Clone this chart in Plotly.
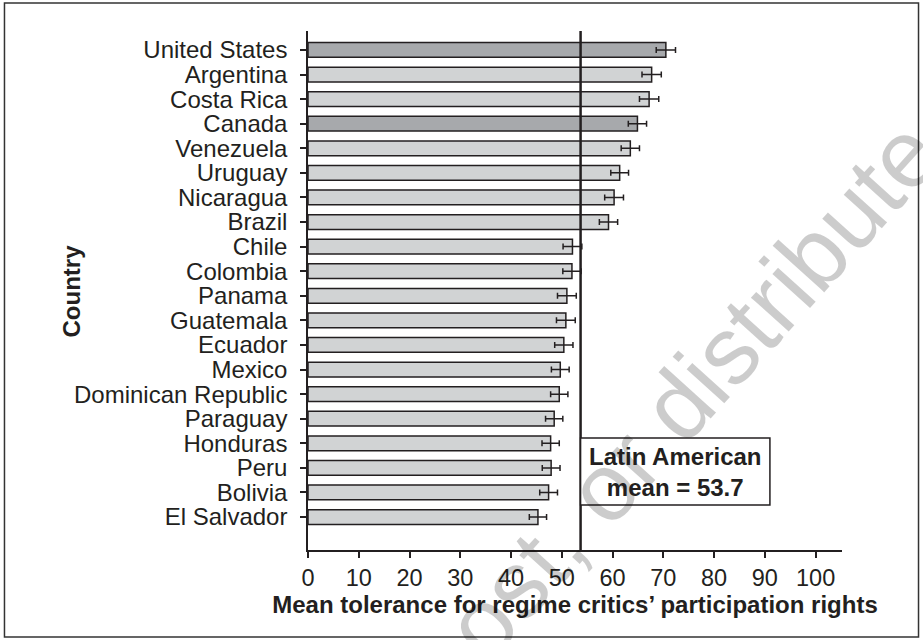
import plotly.graph_objects as go

# Mean tolerance scores by country (0-100 scale) with error margins
countries = [
    "United States", "Argentina", "Costa Rica", "Canada", "Venezuela",
    "Uruguay", "Nicaragua", "Brazil", "Chile", "Colombia", "Panama",
    "Guatemala", "Ecuador", "Mexico", "Dominican Republic", "Paraguay",
    "Honduras", "Peru", "Bolivia", "El Salvador",
]
means = [70.5, 67.7, 67.2, 64.9, 63.5, 61.4, 60.3, 59.2, 52.1, 52.0,
         51.0, 50.8, 50.4, 49.7, 49.5, 48.5, 47.8, 47.9, 47.4, 45.3]
errors = [1.9, 1.9, 1.9, 1.8, 1.8, 1.75, 1.85, 1.8, 1.85, 1.8,
          1.85, 1.85, 1.8, 1.75, 1.7, 1.7, 1.7, 1.75, 1.75, 1.7]
north_america = ["United States", "Canada"]
latin_mean = 53.7
x_ticks = [0, 10, 20, 30, 40, 50, 60, 70, 80, 90, 100]

INK = "#231f20"
FONT = "Liberation Sans, Arial, Helvetica, sans-serif"
DARK_FILL = "#a7a9ac"
LIGHT_FILL = "#d1d3d4"
TEXT_SIZE = 24

colors = [DARK_FILL if c in north_america else LIGHT_FILL for c in countries]

fig = go.Figure()
fig.add_trace(go.Bar(
    x=means,
    y=countries,
    orientation="h",
    width=0.6,
    marker=dict(color=colors, line=dict(color=INK, width=1.5)),
    error_x=dict(type="data", array=errors, color=INK, thickness=1.5, width=3),
    showlegend=False,
    hoverinfo="x+y",
))

# Latin American mean reference line
fig.add_shape(type="line", xref="x", yref="paper",
              x0=latin_mean, x1=latin_mean, y0=0, y1=1,
              line=dict(color=INK, width=2.5), layer="above")

# Callout box for the mean
box_x1 = 91.0
box_y0, box_y1 = 0.0867, 0.2158
fig.add_shape(type="rect", xref="x", yref="paper",
              x0=latin_mean, x1=box_x1, y0=box_y0, y1=box_y1,
              line=dict(color=INK, width=1.5), fillcolor="white", layer="above")

# Outer frame around the figure
fig.add_shape(type="rect", xref="paper", yref="paper",
              x0=-0.5684, x1=1.1433, y0=-0.1676, y1=1.0539,
              line=dict(color="#333333", width=1.5), fillcolor="rgba(0,0,0,0)",
              layer="above")

annotations = [
    # faint diagonal watermark
    dict(text="post, or distribute", xref="paper", yref="paper",
         x=0.685, y=0.27, xanchor="center", yanchor="middle",
         textangle=-48, showarrow=False,
         font=dict(family=FONT, size=96, color="rgba(0,0,0,0.2)")),
    dict(text=f"<b>Latin American</b><br><b>mean = {latin_mean}</b>",
         xref="x", yref="paper",
         x=(latin_mean + box_x1) / 2, y=(box_y0 + box_y1) / 2,
         xanchor="center", yanchor="middle", showarrow=False,
         font=dict(family=FONT, size=TEXT_SIZE, color=INK)),
    dict(text="<b>Country</b>", xref="paper", yref="paper",
         x=-0.442, y=0.5, xanchor="center", yanchor="middle",
         textangle=-90, showarrow=False,
         font=dict(family=FONT, size=TEXT_SIZE, color=INK)),
]

fig.update_layout(
    width=923, height=640, autosize=False,
    margin=dict(l=308, r=81, t=31, b=90, pad=0),
    paper_bgcolor="white", plot_bgcolor="white",
    annotations=annotations,
    font=dict(family=FONT, color=INK),
    xaxis=dict(
        range=[0, 105.2], tickmode="array",
        tickvals=x_ticks, ticktext=[str(t) for t in x_ticks],
        showline=True, linecolor=INK, linewidth=1.5,
        ticks="outside", ticklen=6, tickwidth=1.5, tickcolor=INK,
        showgrid=False, zeroline=False,
        tickfont=dict(family=FONT, size=23.5, color=INK),
        title=dict(text="<b>Mean tolerance for regime critics’ participation rights</b>",
                   font=dict(family=FONT, size=TEXT_SIZE, color=INK), standoff=4),
        automargin=False,
    ),
    yaxis=dict(
        categoryorder="array", categoryarray=countries,
        tickmode="array", tickvals=countries, ticktext=countries,
        range=[20.34, -0.77],
        showline=True, linecolor=INK, linewidth=1.5,
        ticks="outside", ticklen=6, tickwidth=1.5, tickcolor=INK,
        ticklabelstandoff=8,
        showgrid=False, zeroline=False,
        tickfont=dict(family=FONT, size=TEXT_SIZE, color=INK),
        automargin=False,
    ),
)

fig.write_html("out.html")
